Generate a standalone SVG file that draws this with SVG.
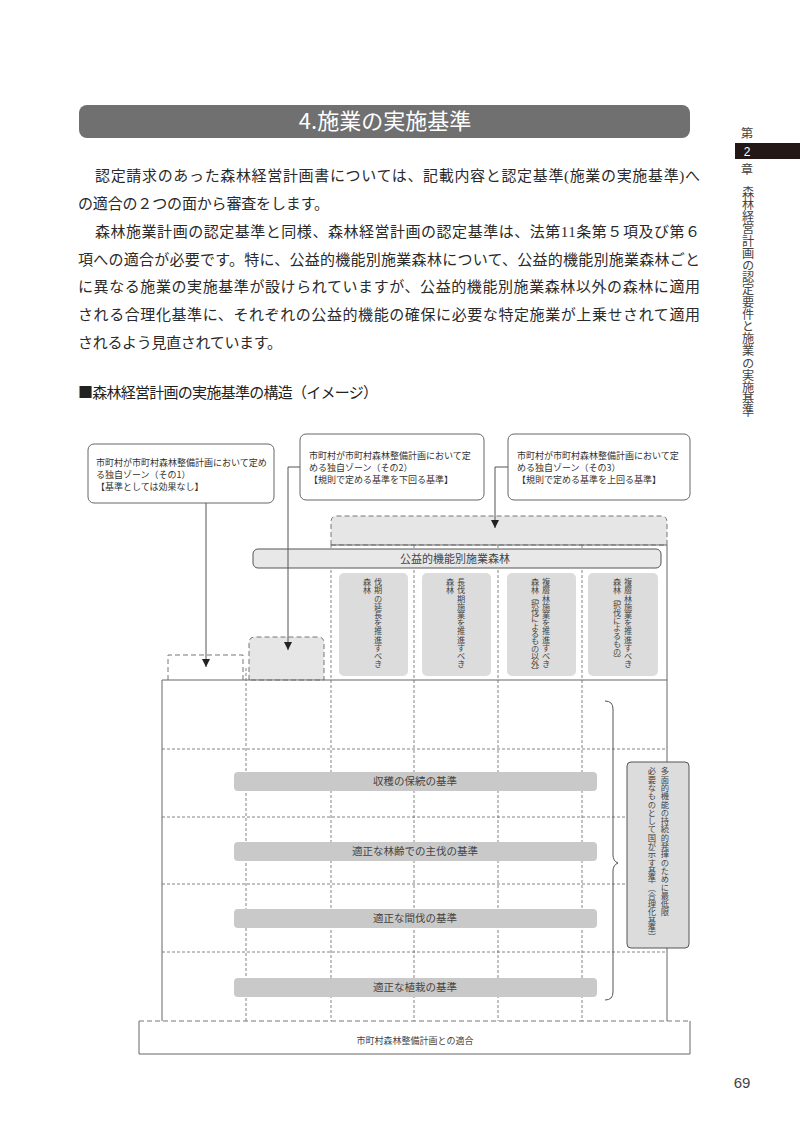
<svg xmlns="http://www.w3.org/2000/svg" width="800" height="1130" viewBox="0 0 800 1130">
<defs>
<style>
.jp{font-family:"Noto Sans CJK JP","Noto Sans",sans-serif;}
.body{font-family:"Liberation Serif","Noto Sans CJK JP",serif;font-size:15px;fill:#2a2a2a;}
.box{fill:#fff;stroke:#666;stroke-width:1;}
.bt{font-size:9px;fill:#333;}
.dash{fill:none;stroke:#666;stroke-width:0.8;stroke-dasharray:3 2;}
.dashbox{stroke:#777;stroke-width:1;stroke-dasharray:5 3;}
.solid{fill:none;stroke:#666;stroke-width:1;}
.gcol{fill:#dcdcdc;}
.vt{writing-mode:vertical-rl;font-size:8.2px;fill:#444;}
.bar{fill:#c9c9c9;}
.barT{font-size:10.5px;fill:#444;text-anchor:middle;}
.con{fill:none;stroke:#555;stroke-width:1;}
</style>
<marker id="ah" viewBox="0 0 8 8" refX="8" refY="4" markerWidth="8" markerHeight="8" markerUnits="userSpaceOnUse" orient="auto">
<path d="M0,0 L8,4 L0,8 z" fill="#222"/>
</marker>
</defs>
<rect width="800" height="1130" fill="#fff"/>

<!-- header -->
<g id="header">
<rect x="79" y="105" width="611" height="33" rx="8" fill="#707070"/>
<text x="385" y="129" class="jp" font-size="22" fill="#fff" text-anchor="middle">4.施業の実施基準</text>
</g>

<!-- side chapter -->
<g id="side">
<text x="747" y="138" class="jp" font-size="12.5" fill="#444" text-anchor="middle">第</text>
<rect x="735" y="143" width="65" height="16" fill="#231815"/>
<text x="747" y="155.5" font-family="Liberation Sans, Arial, sans-serif" font-size="12" fill="#fff" text-anchor="middle">2</text>
<text x="747" y="174" class="jp" font-size="12" fill="#444" text-anchor="middle">章</text>
<text x="748" y="186" class="jp" style="writing-mode:vertical-rl" font-size="12.2" fill="#444">森林経営計画の認定要件と施業の実施基準</text>
</g>

<!-- paragraph -->
<g id="paragraph" class="body">
<text x="95" y="181" textLength="605" lengthAdjust="spacing">認定請求のあった森林経営計画書については、記載内容と認定基準(施業の実施基準)へ</text>
<text x="78" y="209" textLength="251" lengthAdjust="spacing">の適合の２つの面から審査をします。</text>
<text x="95" y="237" textLength="605" lengthAdjust="spacing">森林施業計画の認定基準と同様、森林経営計画の認定基準は、法第11条第５項及び第６</text>
<text x="78" y="265" textLength="622" lengthAdjust="spacing">項への適合が必要です。特に、公益的機能別施業森林について、公益的機能別施業森林ごと</text>
<text x="78" y="292" textLength="622" lengthAdjust="spacing">に異なる施業の実施基準が設けられていますが、公益的機能別施業森林以外の森林に適用</text>
<text x="78" y="320" textLength="622" lengthAdjust="spacing">される合理化基準に、それぞれの公益的機能の確保に必要な特定施業が上乗せされて適用</text>
<text x="78" y="348" textLength="204" lengthAdjust="spacing">されるよう見直されています。</text>
</g>

<g id="subtitle">
<text x="78" y="398" class="jp" font-size="15" fill="#222" textLength="300" lengthAdjust="spacing">■森林経営計画の実施基準の構造（イメージ）</text>
</g>

<!-- top boxes -->
<g id="zone1" class="jp">
<rect x="88" y="444" width="186" height="59" rx="6" class="box"/>
<text x="96" y="466" class="bt">市町村が市町村森林整備計画において定め</text>
<text x="96" y="478" class="bt">る独自ゾーン（その1）</text>
<text x="96" y="490" class="bt">【基準としては効果なし】</text>
</g>
<g id="zone2" class="jp">
<rect x="300" y="434" width="184" height="66" rx="6" class="box"/>
<text x="309" y="459" class="bt">市町村が市町村森林整備計画において定</text>
<text x="309" y="471" class="bt">める独自ゾーン（その2）</text>
<text x="309" y="483" class="bt">【規則で定める基準を下回る基準】</text>
</g>
<g id="zone3" class="jp">
<rect x="508" y="434" width="182" height="66" rx="6" class="box"/>
<text x="517" y="459" class="bt">市町村が市町村森林整備計画において定</text>
<text x="517" y="471" class="bt">める独自ゾーン（その3）</text>
<text x="517" y="483" class="bt">【規則で定める基準を上回る基準】</text>
</g>

<!-- upper zones -->
<g id="zone3-area">
<path d="M331,545 L331,522 Q331,516 337,516 L661,516 Q667,516 667,522 L667,545 Z" fill="#e6e6e6" class="dashbox"/>
</g>
<g id="zone2-area">
<path d="M249,680 L249,643 Q249,637 255,637 L318,637 Q324,637 324,643 L324,680 Z" fill="#e6e6e6" class="dashbox"/>
</g>
<g id="zone1-area">
<path d="M168,680 L168,655 L243,655 L243,680" fill="none" class="dashbox"/>
</g>

<!-- grid -->
<g id="grid">
<line x1="331" y1="545" x2="667" y2="545" class="solid"/>
<line x1="162" y1="680" x2="667" y2="680" class="solid"/>
<line x1="162" y1="680" x2="162" y2="1021" class="solid"/>
<line x1="667" y1="545" x2="667" y2="1021" class="solid"/>
<line x1="246" y1="668" x2="246" y2="1021" class="dash"/>
<line x1="331" y1="545" x2="331" y2="1021" class="dash"/>
<line x1="414" y1="545" x2="414" y2="1021" class="dash"/>
<line x1="498" y1="545" x2="498" y2="1021" class="dash"/>
<line x1="582" y1="545" x2="582" y2="1021" class="dash"/>
<line x1="162" y1="749" x2="667" y2="749" class="dash"/>
<line x1="162" y1="817" x2="667" y2="817" class="dash"/>
<line x1="162" y1="884" x2="667" y2="884" class="dash"/>
<line x1="162" y1="952" x2="667" y2="952" class="dash"/>
</g>

<!-- public function forest -->
<g id="koeki" class="jp">
<rect x="253" y="549" width="408" height="19" rx="5" fill="#e8e8e8" stroke="#555" stroke-width="1"/>
<text x="455" y="563" font-size="11" fill="#444" text-anchor="middle">公益的機能別施業森林</text>
</g>
<g id="col1" class="jp">
<rect x="339" y="573" width="69" height="103" rx="5" class="gcol"/>
<text x="378" y="578" class="vt">伐期の延長を推進すべき</text>
<text x="367" y="578" class="vt">森林</text>
</g>
<g id="col2" class="jp">
<rect x="422" y="573" width="69" height="103" rx="5" class="gcol"/>
<text x="461" y="578" class="vt">長伐期施業を推進すべき</text>
<text x="450" y="578" class="vt">森林</text>
</g>
<g id="col3" class="jp">
<rect x="507" y="573" width="69" height="103" rx="5" class="gcol"/>
<text x="546" y="578" class="vt">複層林施業を推進すべき</text>
<text x="535" y="578" class="vt" style="letter-spacing:-0.8px">森林（択伐によるもの以外）</text>
</g>
<g id="col4" class="jp">
<rect x="588" y="573" width="70" height="103" rx="5" class="gcol"/>
<text x="628" y="578" class="vt">複層林施業を推進すべき</text>
<text x="617" y="578" class="vt" style="letter-spacing:-0.5px">森林（択伐によるもの）</text>
</g>

<!-- criteria bars -->
<g id="bar1" class="jp">
<rect x="234" y="772" width="363" height="19" rx="4" class="bar"/>
<text x="415" y="785" class="barT">収穫の保続の基準</text>
</g>
<g id="bar2" class="jp">
<rect x="234" y="842" width="363" height="19" rx="4" class="bar"/>
<text x="415" y="855" class="barT">適正な林齢での主伐の基準</text>
</g>
<g id="bar3" class="jp">
<rect x="234" y="909" width="363" height="19" rx="4" class="bar"/>
<text x="415" y="922" class="barT">適正な間伐の基準</text>
</g>
<g id="bar4" class="jp">
<rect x="234" y="978" width="363" height="19" rx="4" class="bar"/>
<text x="415" y="991" class="barT">適正な植栽の基準</text>
</g>

<!-- brace -->
<g id="brace">
<path d="M605,701 Q613,701 613,709 L613,855 Q613,861 618,863 Q613,865 613,871 L613,992 Q613,1000 605,1000" fill="none" stroke="#555" stroke-width="1"/>
</g>

<!-- rationalization label -->
<g id="gorika" class="jp">
<rect x="627" y="762" width="62" height="186" rx="4" fill="#dcdcdc" stroke="#555" stroke-width="1"/>
<text x="665" y="767" class="vt" style="font-size:8.3px">多面的機能の持続的発揮のために最低限</text>
<text x="652" y="767" class="vt" style="font-size:8.3px">必要なものとして国が示す基準（合理化基準）</text>
</g>

<!-- bottom -->
<g id="seibi" class="jp">
<path d="M139,1021 L139,1054 L690,1054 L690,1021" fill="#fff" stroke="#666" stroke-width="1"/>
<line x1="139" y1="1021" x2="690" y2="1021" class="dashbox"/>
<text x="415" y="1044" font-size="9" fill="#444" text-anchor="middle">市町村森林整備計画との適合</text>
</g>

<!-- connectors -->
<g id="connectors">
<path d="M206,503 L206,667" class="con" marker-end="url(#ah)"/>
<path d="M300,467 L288,467 L288,650" class="con" marker-end="url(#ah)"/>
<path d="M508,467 L495,467 L495,528" class="con" marker-end="url(#ah)"/>
</g>

<g id="page">
<text x="742" y="1088" font-family="Liberation Sans, Arial, sans-serif" font-size="15" fill="#444" text-anchor="middle">69</text>
</g>
</svg>
